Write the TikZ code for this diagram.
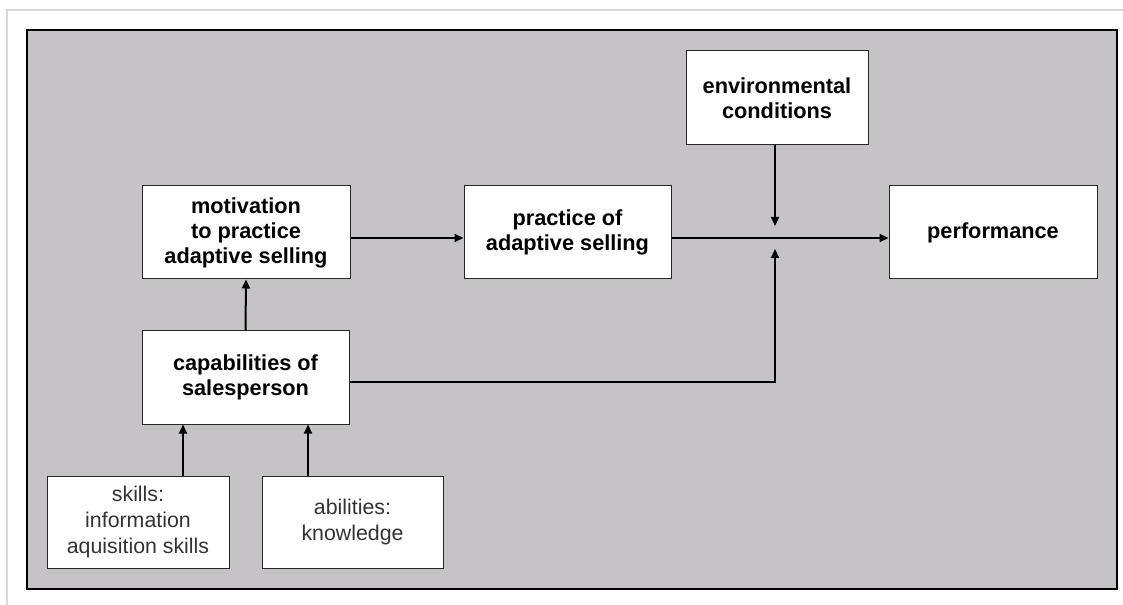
\documentclass[tikz,border=0pt]{standalone}
\usepackage{fontspec}
\setmainfont{Liberation Sans}
\usetikzlibrary{arrows.meta,calc}
\definecolor{panelgray}{RGB}{197,195,198}
\definecolor{framegray}{RGB}{216,216,216}
\begin{document}
\begin{tikzpicture}[x=0.75pt,y=-0.75pt,
  box/.style={draw=black!85,line width=0.75pt,fill=white,align=center,inner sep=0pt},
  boldbox/.style={box,font=\fontsize{16.3}{18.75}\selectfont\bfseries},
  thinbox/.style={box,font=\fontsize{16}{19.5}\selectfont,text=black!80},
  arr/.style={line width=1.5pt,-{Triangle[length=6.75pt,width=6pt]}}]
\useasboundingbox (0,0) rectangle (1123,605);
% outer frame
\draw[framegray,line width=1.5pt] (7,605) -- (7,10) -- (1123,10);
% panel
\draw[fill=panelgray,line width=2pt] (27,30) rectangle (1117,589);
% nodes
\node[boldbox,minimum width=208*0.75pt,minimum height=93*0.75pt] (mot) at (246,232.5) {motivation\\to practice\\adaptive selling};
\node[boldbox,minimum width=207*0.75pt,minimum height=93*0.75pt] (prac) at (567.5,232.5) {practice of\\adaptive selling};
\node[boldbox,minimum width=208*0.75pt,minimum height=93*0.75pt] (perf) at (993,232.5) {performance};
\node[boldbox,minimum width=182*0.75pt,minimum height=94*0.75pt] (env) at (777,98) {environmental\\conditions};
\node[boldbox,minimum width=207*0.75pt,minimum height=93*0.75pt] (cap) at (245.5,377.5) {capabilities of\\salesperson};
\node[thinbox,minimum width=182*0.75pt,minimum height=92*0.75pt] (skills) at (138,522) {skills:\\information\\aquisition skills};
\node[thinbox,minimum width=181*0.75pt,minimum height=92*0.75pt] (abil) at (352.5,522) {abilities:\\knowledge};
% junction coordinates
\coordinate (j) at (775,238);
\coordinate (ja) at (775,226);
\coordinate (jb) at (775,249);
\coordinate (cc) at (775,382);
\coordinate (sk) at ($(skills.north)+(45,0)$);
\coordinate (ab) at ($(abil.north)+(-44.5,0)$);
% connectors
\draw[arr] (mot.east|-j) -- (prac.west|-j);
\draw[arr] (prac.east|-j) -- (perf.west|-j);
\draw[arr] (env.south-|ja) -- (ja);
\draw[arr] (cap.east|-cc) -- (cc) -- (jb);
\draw[arr] (cap.north) -- (mot.south);
\draw[arr] (sk) -- (sk|-cap.south);
\draw[arr] (ab) -- (ab|-cap.south);
\end{tikzpicture}
\end{document}
